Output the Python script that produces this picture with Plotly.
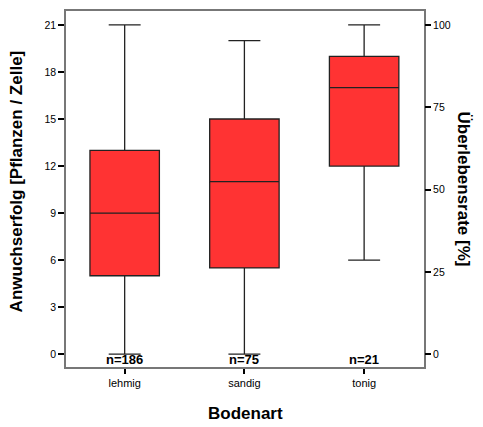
import plotly.graph_objects as go

categories = ["lehmig", "sandig", "tonig"]
lower = [0, 0, 6]
q1 = [5, 5.5, 12]
median = [9, 11, 17]
q3 = [13, 15, 19]
upper = [21, 20, 21]
n_labels = ["n=186", "n=75", "n=21"]
left_ticks = [0, 3, 6, 9, 12, 15, 18, 21]
right_ticks = [0, 25, 50, 75, 100]

y_lo, y_hi = -0.82, 21.89
scale = 100 / 21

fig = go.Figure()
fig.add_trace(go.Box(
    x=categories, q1=q1, median=median, q3=q3,
    lowerfence=lower, upperfence=upper,
    fillcolor="rgb(255,51,51)",
    line=dict(color="#222222", width=1.3),
    whiskerwidth=0.46, width=0.58,
    boxpoints=False, showlegend=False, hoverinfo="skip",
))
fig.add_trace(go.Scatter(x=[categories[0]], y=[0], yaxis="y2", mode="markers",
                         marker=dict(opacity=0), showlegend=False, hoverinfo="skip"))

for c, t in zip(categories, n_labels):
    fig.add_annotation(x=c, y=0, yref="paper", yanchor="bottom", text=f"<b>{t}</b>",
                       showarrow=False, font=dict(size=13, color="black", family="Liberation Sans"),
                       yshift=-2)

fig.add_annotation(x=1, xref="paper", xanchor="left", xshift=28, y=0.5, yref="paper",
                   text="<b>Überlebensrate [%]</b>", textangle=90, showarrow=False,
                   font=dict(size=17, color="black", family="Liberation Sans"))

fig.add_annotation(x=0, xref="paper", xanchor="right", xshift=-38, y=0.52, yref="paper",
                   text="<b>Anwuchserfolg [Pflanzen / Zelle]</b>", textangle=-90, showarrow=False,
                   font=dict(size=17, color="black", family="Liberation Sans"))

fig.add_annotation(x=0.5, xref="paper", y=0, yref="paper", yanchor="top", yshift=-35,
                   text="<b>Bodenart</b>", showarrow=False,
                   font=dict(size=17, color="black", family="Liberation Sans"))

fig.update_layout(
    width=475, height=419,
    margin=dict(l=58, r=59, t=1, b=60),
    paper_bgcolor="white", plot_bgcolor="white",
    font=dict(family="Liberation Sans", color="black", size=10),
    xaxis=dict(
        type="category", range=[-0.49, 2.5],
        showline=True, linecolor="#777777", linewidth=1.5, mirror=True,
        ticks="outside", ticklen=5, tickwidth=2, tickcolor="black",
        tickfont=dict(size=11), showgrid=False,
    ),
    yaxis=dict(
        range=[y_lo, y_hi], tickvals=left_ticks,
        showline=True, linecolor="#777777", linewidth=1.5, mirror=True,
        ticks="outside", ticklen=6, tickwidth=2, tickcolor="black",
        tickfont=dict(size=10.5), showgrid=False, zeroline=False,
    ),
    yaxis2=dict(
        overlaying="y", side="right",
        range=[y_lo * scale, y_hi * scale], tickvals=right_ticks,
        ticks="outside", ticklen=6, tickwidth=2, tickcolor="black",
        tickfont=dict(size=10.5), showgrid=False, zeroline=False, showline=False,
    ),
)

fig.write_html("out.html")
